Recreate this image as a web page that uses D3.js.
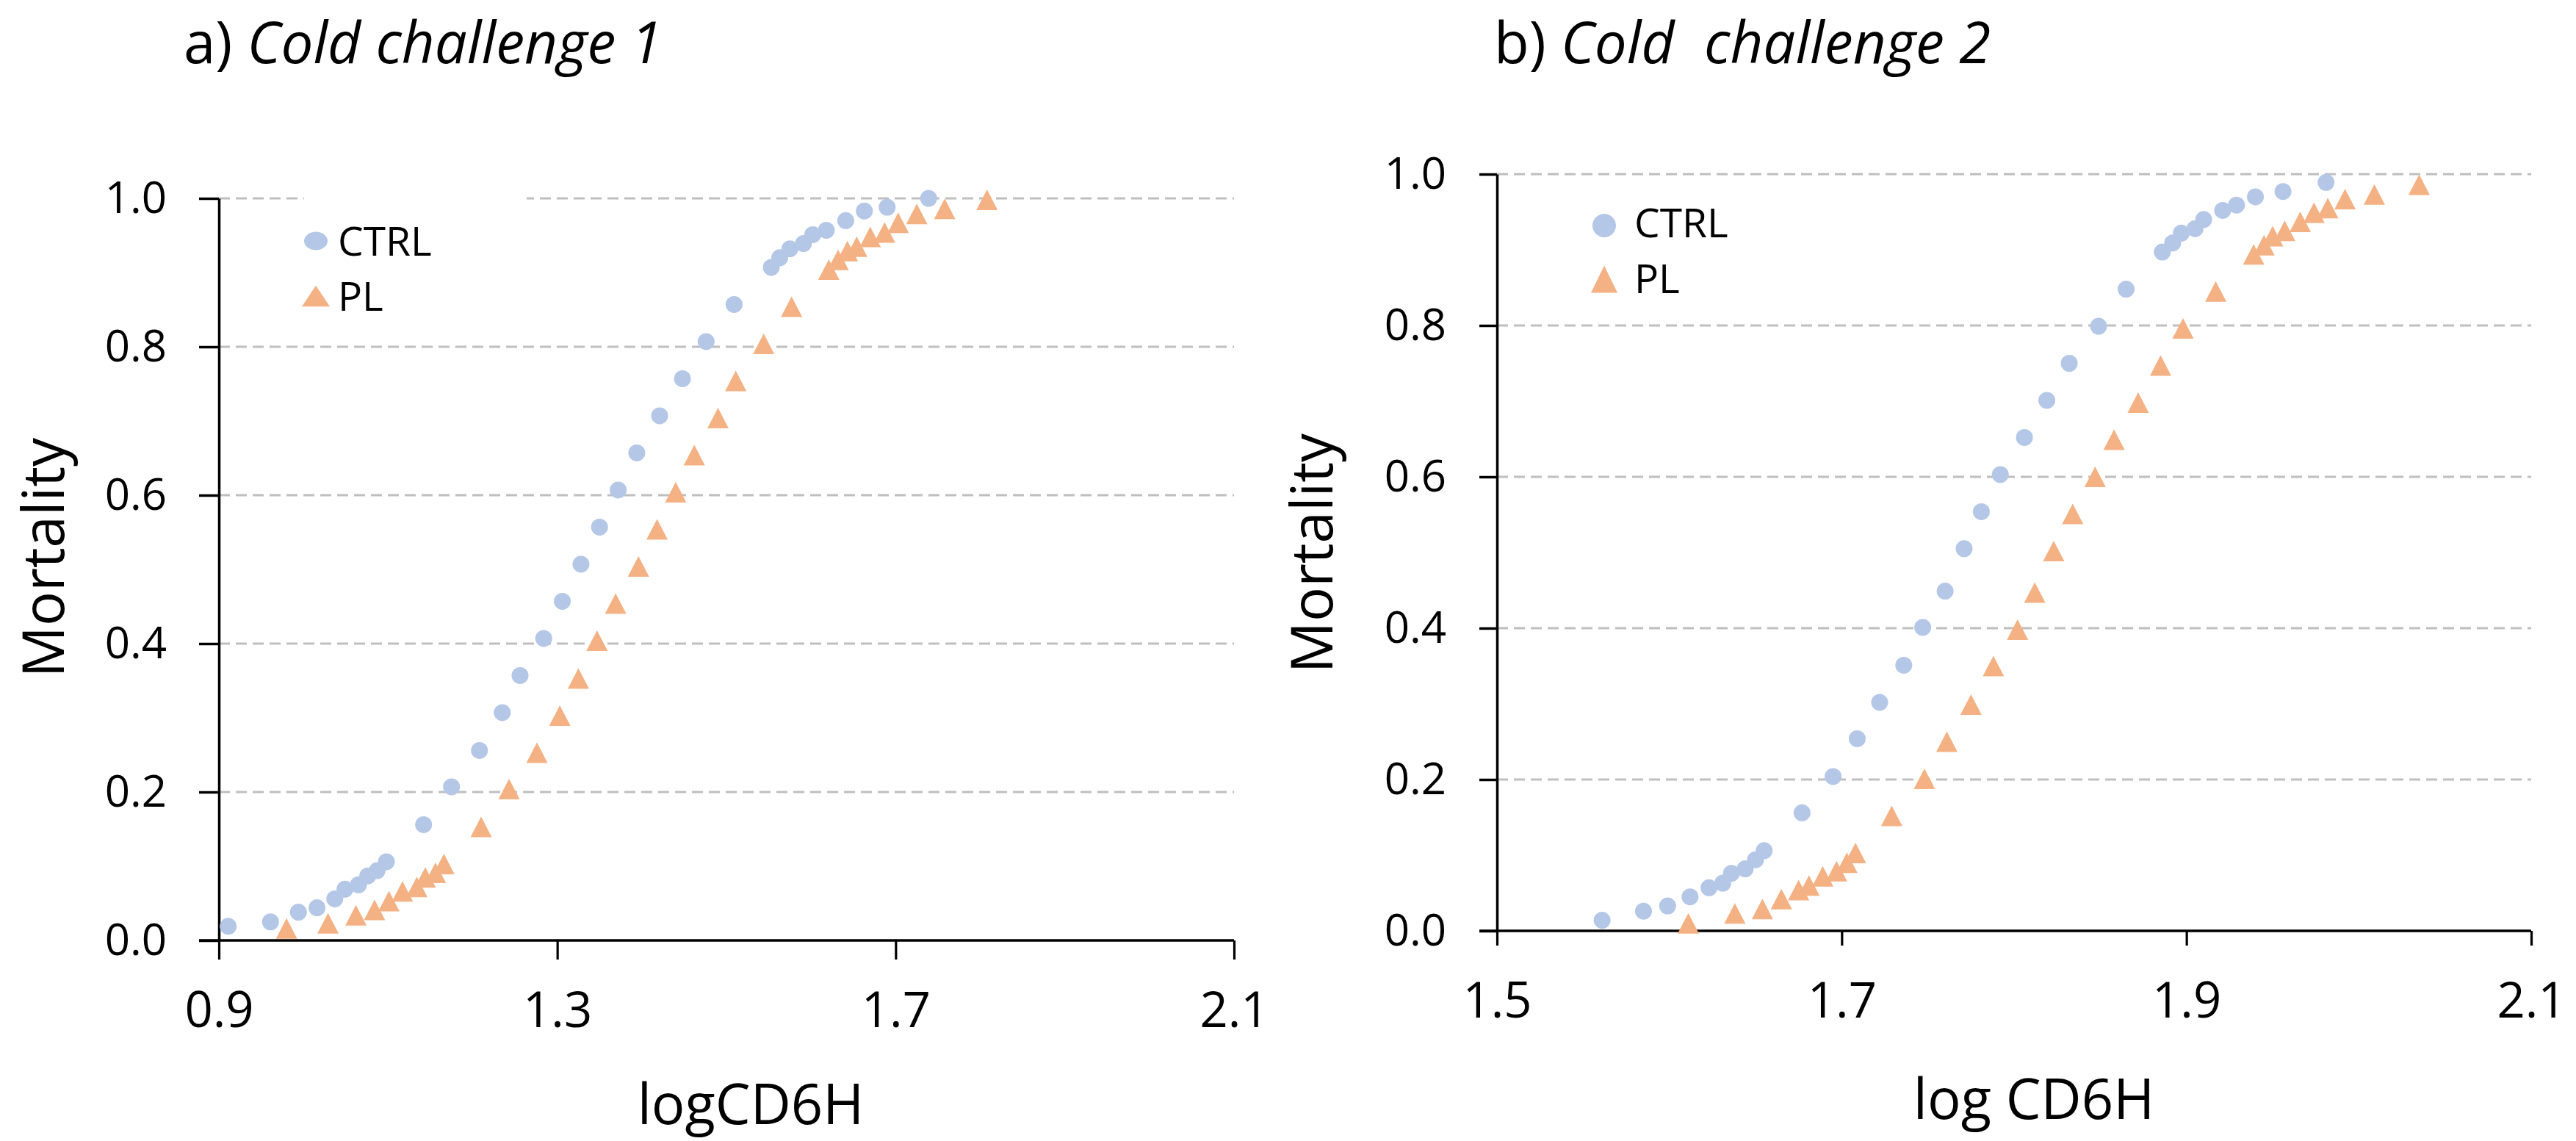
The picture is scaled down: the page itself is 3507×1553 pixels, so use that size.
<!DOCTYPE html>
<html>
<head>
<meta charset="utf-8">
<script src="https://cdn.jsdelivr.net/npm/d3@7"></script>
<style>
  html, body { margin: 0; padding: 0; background: #ffffff; }
  svg { display: block; }
  text { font-family: "Open Sans", "Noto Sans", sans-serif; fill: #000; }
</style>
</head>
<body>
<svg id="chart" width="3507" height="1553"></svg>
<script>
// ---------------- data ----------------
const seriesNames = ["CTRL", "PL"];

// Panel a) Cold challenge 1
const ctrlA_x = [0.911,0.961,0.994,1.016,1.037,1.049,1.065,1.076,1.087,1.098,1.142,1.175,1.208,1.235,1.256,1.284,1.306,1.328,1.350,1.372,1.394,1.421,1.448,1.476,1.509,1.553,1.563,1.575,1.591,1.602,1.618,1.641,1.663,1.690,1.739];
const ctrlA_y = [0.019,0.025,0.038,0.044,0.056,0.069,0.075,0.087,0.094,0.106,0.156,0.207,0.256,0.307,0.357,0.407,0.457,0.507,0.557,0.607,0.657,0.707,0.757,0.807,0.857,0.907,0.920,0.932,0.939,0.951,0.957,0.970,0.983,0.988,1.000];
const plA_x = [0.980,1.029,1.062,1.084,1.101,1.117,1.134,1.144,1.156,1.166,1.210,1.243,1.276,1.303,1.325,1.347,1.369,1.396,1.418,1.440,1.462,1.490,1.511,1.544,1.577,1.621,1.632,1.643,1.654,1.670,1.687,1.703,1.725,1.758,1.808];
const plA_y = [0.016,0.023,0.034,0.041,0.053,0.066,0.072,0.085,0.091,0.103,0.153,0.204,0.253,0.303,0.353,0.404,0.454,0.504,0.554,0.604,0.654,0.704,0.754,0.804,0.854,0.904,0.917,0.929,0.935,0.948,0.954,0.967,0.979,0.986,0.998];

// Panel b) Cold challenge 2
const ctrlB_x = [1.561,1.585,1.599,1.612,1.623,1.631,1.636,1.644,1.650,1.655,1.677,1.695,1.709,1.722,1.736,1.747,1.760,1.771,1.781,1.792,1.806,1.819,1.832,1.849,1.865,1.886,1.892,1.897,1.905,1.910,1.921,1.929,1.940,1.956,1.981];
const ctrlB_y = [0.014,0.026,0.033,0.045,0.057,0.063,0.076,0.082,0.094,0.106,0.156,0.204,0.254,0.302,0.351,0.401,0.449,0.505,0.554,0.603,0.652,0.701,0.750,0.799,0.848,0.897,0.909,0.922,0.928,0.940,0.952,0.959,0.970,0.977,0.989];
const plB_x = [1.611,1.638,1.654,1.665,1.675,1.681,1.689,1.697,1.703,1.708,1.729,1.748,1.761,1.775,1.788,1.802,1.812,1.823,1.834,1.847,1.858,1.872,1.885,1.898,1.917,1.939,1.945,1.950,1.957,1.966,1.974,1.982,1.992,2.009,2.035];
const plB_y = [0.010,0.023,0.029,0.042,0.054,0.060,0.072,0.079,0.090,0.103,0.152,0.201,0.250,0.299,0.350,0.398,0.447,0.502,0.551,0.600,0.649,0.698,0.747,0.796,0.845,0.894,0.906,0.918,0.925,0.937,0.949,0.955,0.967,0.973,0.986];

const xTicksA = [0.9, 1.3, 1.7, 2.1];
const xTicksB = [1.5, 1.7, 1.9, 2.1];
const yTicks = [0.0, 0.2, 0.4, 0.6, 0.8, 1.0];

const titleA = ["a) ", "Cold challenge 1"];
const titleB = ["b) ", "Cold  challenge 2"];
const xTitleA = "logCD6H";
const xTitleB = "log CD6H";
const yTitle = "Mortality";

// ---------------- styles ----------------
const COL_CTRL = "#B4C7E7";
const COL_PL = "#F4B183";
const GRID = "#BFBFBF";

const svg = d3.select("#chart");

function zip(xs, ys) { return xs.map((x, i) => ({ x: x, y: ys[i] })); }

function panel(cfg) {
  const g = svg.append("g");
  const x = d3.scaleLinear().domain(cfg.xDomain).range(cfg.xRange);
  const y = d3.scaleLinear().domain([0, 1]).range(cfg.yRange);

  // gridlines
  g.append("g").selectAll("line").data(yTicks.filter(d => d > 0)).join("line")
    .attr("x1", cfg.xRange[0]).attr("x2", cfg.xRange[1])
    .attr("y1", d => y(d)).attr("y2", d => y(d))
    .attr("stroke", GRID).attr("stroke-width", 3.2)
    .attr("stroke-dasharray", "15,8");

  // legend background (covers gridline in panel a)
  if (cfg.legendBg) {
    g.append("rect").attr("x", cfg.legendBg[0]).attr("y", cfg.legendBg[1])
      .attr("width", cfg.legendBg[2]).attr("height", cfg.legendBg[3]).attr("fill", "#fff");
  }

  // axes
  const yAxis = d3.axisLeft(y).tickValues(yTicks).tickFormat(d3.format(".1f"))
    .tickSize(cfg.yTickLen).tickSizeOuter(0).tickPadding(cfg.yTickPad);
  const gy = g.append("g").attr("transform", `translate(${cfg.xRange[0]},0)`).call(yAxis);
  gy.select(".domain").attr("stroke", "#000").attr("stroke-width", 3.5);
  gy.selectAll(".tick line").attr("stroke", "#000").attr("stroke-width", 3.5);
  gy.selectAll(".tick text").attr("font-size", 60).attr("font-family", "Open Sans").attr("dy", "0.32em");

  const xAxis = d3.axisBottom(x).tickValues(cfg.xTicks).tickFormat(d3.format(".1f"))
    .tickSize(cfg.xTickLen).tickSizeOuter(0);
  const gx = g.append("g").attr("transform", `translate(0,${cfg.yRange[0]})`).call(xAxis);
  gx.select(".domain").attr("stroke", "#000").attr("stroke-width", 3.5)
    .attr("d", `M${cfg.xRange[0] - cfg.yTickLen},0H${cfg.xRange[1]}`);
  gx.selectAll(".tick line").attr("stroke", "#000").attr("stroke-width", 3.2);
  gx.selectAll(".tick text").attr("font-size", 67).attr("font-family", "Open Sans")
    .attr("y", 94).attr("dy", "0.36em");

  // data points: CTRL circles
  g.append("g").selectAll("circle").data(zip(cfg.ctrlX, cfg.ctrlY)).join("circle")
    .attr("cx", d => x(d.x)).attr("cy", d => y(d.y)).attr("r", 11.5)
    .attr("fill", COL_CTRL);

  // PL triangles
  g.append("g").selectAll("path").data(zip(cfg.plX, cfg.plY)).join("path")
    .attr("d", "M0,-14L14.5,14L-14.5,14Z")
    .attr("transform", d => `translate(${x(d.x)},${y(d.y)})`)
    .attr("fill", COL_PL);

  // legend
  const L = cfg.legend;
  g.append("ellipse").attr("cx", L.cx).attr("cy", L.cy1).attr("rx", L.crx).attr("ry", L.cry).attr("fill", COL_CTRL);
  g.append("path").attr("d", `M0,${-L.th/2}L${L.tw/2},${L.th/2}L${-L.tw/2},${L.th/2}Z`)
    .attr("transform", `translate(${L.cx},${L.cy2})`).attr("fill", COL_PL);
  g.append("text").attr("x", L.tx).attr("y", L.b1).attr("font-size", 55).text(seriesNames[0]);
  g.append("text").attr("x", L.tx).attr("y", L.b2).attr("font-size", 55).text(seriesNames[1]);

  // titles
  const t = g.append("text").attr("x", cfg.title.x).attr("y", cfg.title.y).attr("font-size", 78);
  t.append("tspan").text(cfg.title.parts[0]);
  t.append("tspan").attr("font-style", "italic").style("white-space", "pre").text(cfg.title.parts[1]);

  g.append("text").attr("x", cfg.xTitle.x).attr("y", cfg.xTitle.y).attr("text-anchor", "middle")
    .attr("font-size", 76).text(cfg.xTitle.text);

  g.append("text").attr("transform", `translate(${cfg.yTitle.x},${cfg.yTitle.y}) rotate(-90)`)
    .attr("text-anchor", "middle").attr("font-size", 78).text(yTitle);
}

panel({
  xDomain: [0.9, 2.1], xRange: [298, 1680], yRange: [1280, 270],
  xTicks: xTicksA, yTickLen: 27, yTickPad: 44, xTickLen: 26,
  ctrlX: ctrlA_x, ctrlY: ctrlA_y, plX: plA_x, plY: plA_y,
  legendBg: [414, 255, 303, 190],
  legend: { cx: 430, cy1: 328, cy2: 403, crx: 16, cry: 12.5, tw: 38, th: 28.5, tx: 460, b1: 348, b2: 423 },
  title: { x: 250, y: 86, parts: titleA },
  xTitle: { x: 1022, y: 1530, text: xTitleA },
  yTitle: { x: 87, y: 759 }
});

panel({
  xDomain: [1.5, 2.1], xRange: [2038, 3446], yRange: [1267, 237],
  xTicks: xTicksB, yTickLen: 24, yTickPad: 45, xTickLen: 20,
  ctrlX: ctrlB_x, ctrlY: ctrlB_y, plX: plB_x, plY: plB_y,
  legendBg: null,
  legend: { cx: 2184, cy1: 307, cy2: 380, crx: 16, cry: 16, tw: 36, th: 37, tx: 2225, b1: 323, b2: 398.5 },
  title: { x: 2034, y: 86, parts: titleB },
  xTitle: { x: 2769, y: 1523, text: xTitleB },
  yTitle: { x: 1814, y: 753 }
});
</script>
</body>
</html>
